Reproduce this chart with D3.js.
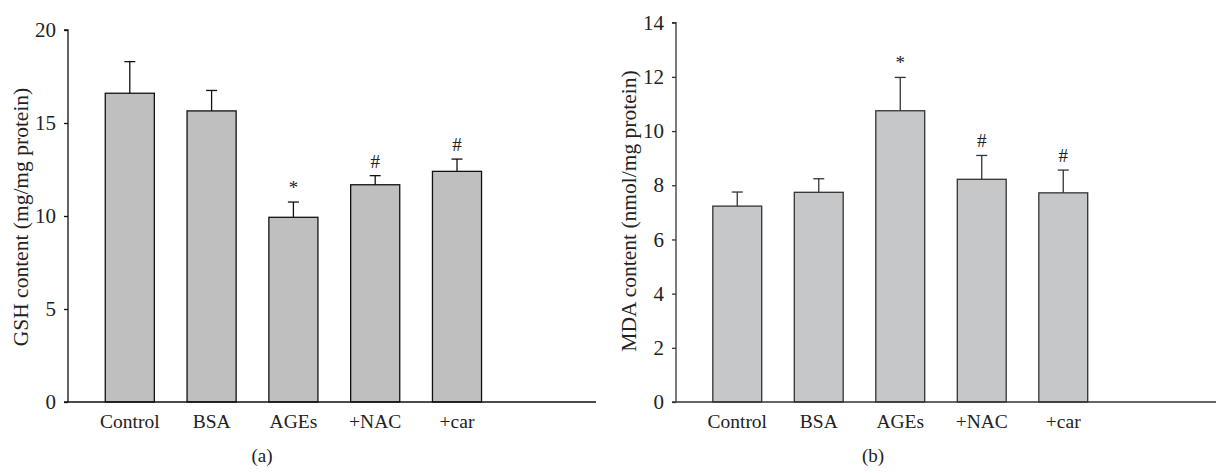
<!DOCTYPE html>
<html>
<head>
<meta charset="utf-8">
<script src="https://cdn.jsdelivr.net/npm/d3@7"></script>
<style>
  body { margin: 0; background: #fff; }
  svg { display: block; }
  text { font-family: "Liberation Serif", "DejaVu Serif", serif; fill: #222; }
</style>
</head>
<body>
<svg id="chart" width="1216" height="473"></svg>
<script>
(function() {
    'use strict';

    var groups = ['Control', 'BSA', 'AGEs', '+NAC', '+car'];

    // (a) GSH
    var gshMean = [16.6, 15.65, 9.93, 11.68, 12.4];
    var gshErr  = [1.7, 1.1, 0.82, 0.49, 0.66];
    var gshMarks = ['', '', '*', '#', '#'];
    var gshTicks = [0, 5, 10, 15, 20];

    // (b) MDA
    var mdaMean = [7.23, 7.74, 10.75, 8.22, 7.72];
    var mdaErr  = [0.52, 0.5, 1.23, 0.88, 0.84];
    var mdaMarks = ['', '', '*', '#', '#'];
    var mdaTicks = [0, 2, 4, 6, 8, 10, 12, 14];

    var svg = d3.select('#chart');

    function panel(opt) {
        var g = svg.append('g');

        var x = d3.scaleBand()
            .domain(groups)
            .range(opt.xRange)
            .paddingInner(0.4)
            .paddingOuter(0.2);

        var y = d3.scaleLinear()
            .domain([0, opt.yMax])
            .range([402, opt.yTop]);

        // bars
        g.selectAll('rect.bar')
            .data(groups)
            .join('rect')
            .attr('class', 'bar')
            .attr('x', function(d) { return x(d); })
            .attr('width', x.bandwidth())
            .attr('y', function(d, i) { return y(opt.mean[i]); })
            .attr('height', function(d, i) { return y(0) - y(opt.mean[i]); })
            .attr('fill', opt.fill)
            .attr('stroke', opt.stroke)
            .attr('stroke-width', 1.3);

        // error bars (upper only)
        var eb = g.selectAll('g.err')
            .data(groups)
            .join('g')
            .attr('class', 'err')
            .attr('stroke', opt.stroke)
            .attr('stroke-width', 1.3);

        eb.append('line')
            .attr('x1', function(d) { return x(d) + x.bandwidth() / 2; })
            .attr('x2', function(d) { return x(d) + x.bandwidth() / 2; })
            .attr('y1', function(d, i) { return y(opt.mean[i]); })
            .attr('y2', function(d, i) { return y(opt.mean[i] + opt.err[i]); });

        eb.append('line')
            .attr('x1', function(d) { return x(d) + x.bandwidth() / 2 - 5.5; })
            .attr('x2', function(d) { return x(d) + x.bandwidth() / 2 + 5.5; })
            .attr('y1', function(d, i) { return y(opt.mean[i] + opt.err[i]); })
            .attr('y2', function(d, i) { return y(opt.mean[i] + opt.err[i]); });

        // significance marks
        g.selectAll('text.mark')
            .data(groups)
            .join('text')
            .attr('class', 'mark')
            .attr('x', function(d) { return x(d) + x.bandwidth() / 2; })
            .attr('y', function(d, i) { return y(opt.mean[i] + opt.err[i]) - 8; })
            .attr('text-anchor', 'middle')
            .style('font-size', '19px')
            .text(function(d, i) { return opt.marks[i]; });

        // y axis
        var yAxis = g.append('g')
            .attr('transform', 'translate(' + opt.axisX + ',0)')
            .call(d3.axisLeft(y).tickValues(opt.ticks).tickSize(4).tickPadding(8).tickFormat(d3.format('d')));
        yAxis.select('.domain').attr('d', 'M-4,' + y(opt.yMax) + 'H0V' + y(0)).attr('stroke', opt.axisColor).attr('stroke-width', 1.3);
        yAxis.selectAll('.tick line').attr('stroke', opt.axisColor).attr('stroke-width', 1.3);
        yAxis.selectAll('.tick text').style('font-size', '21px').attr('fill', '#222');

        // x axis baseline
        g.append('line')
            .attr('x1', opt.axisX - 4)
            .attr('x2', opt.axisEnd)
            .attr('y1', y(0))
            .attr('y2', y(0))
            .attr('stroke', opt.axisColor)
            .attr('stroke-width', 1.3);

        // x labels
        g.selectAll('text.cat')
            .data(groups)
            .join('text')
            .attr('class', 'cat')
            .attr('x', function(d) { return x(d) + x.bandwidth() / 2; })
            .attr('y', 428)
            .attr('text-anchor', 'middle')
            .style('font-size', '19.5px')
            .text(function(d) { return d; });

        // y title
        g.append('text')
            .attr('transform', 'translate(' + opt.titleX + ',' + opt.titleY + ') rotate(-90)')
            .attr('text-anchor', 'middle')
            .style('font-size', '21.5px')
            .text(opt.title);

        // panel label
        g.append('text')
            .attr('x', opt.labelX)
            .attr('y', 462)
            .attr('text-anchor', 'middle')
            .style('font-size', '19px')
            .text(opt.label);
    }

    panel({
        xRange: [88.9, 497.9], yMax: 20, yTop: 30, axisX: 68, axisEnd: 596,
        mean: gshMean, err: gshErr, marks: gshMarks, ticks: gshTicks,
        fill: '#bfbfbf', stroke: '#111', axisColor: '#111',
        title: 'GSH content (mg/mg protein)', titleX: 28, titleY: 217,
        label: '(a)', labelX: 262
    });

    panel({
        xRange: [696.5, 1104], yMax: 14, yTop: 22.7, axisX: 676, axisEnd: 1216,
        mean: mdaMean, err: mdaErr, marks: mdaMarks, ticks: mdaTicks,
        fill: '#c6c7c9', stroke: '#333', axisColor: '#333',
        title: 'MDA content (nmol/mg protein)', titleX: 636, titleY: 211,
        label: '(b)', labelX: 873
    });
})();
</script>
</body>
</html>
